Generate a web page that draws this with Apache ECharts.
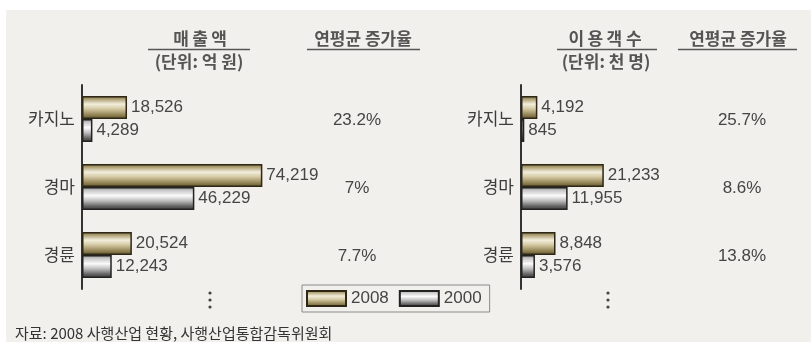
<!DOCTYPE html>
<html>
<head>
<meta charset="utf-8">
<script src="https://cdn.jsdelivr.net/npm/echarts@6/dist/echarts.min.js"></script>
<style>
  html, body { margin: 0; padding: 0; background: #ffffff; }
  #chart { width: 811px; height: 347px; }
</style>
</head>
<body>
<div id="chart"></div>
<script>
// Gambling industry: sales and visitors, 2008 vs 2000
var categories = ['카지노', '경마', '경륜'];
var seriesNames = ['2008', '2000'];
var sales2008 = [18526, 74219, 20524];      // 억 원
var sales2000 = [4289, 46229, 12243];
var visitors2008 = [4192, 21233, 8848];     // 천 명
var visitors2000 = [845, 11955, 3576];
var salesGrowth = ['23.2%', '7%', '7.7%'];
var visitorGrowth = ['25.7%', '8.6%', '13.8%'];
var headers = {
  sales: '매\u2009출\u2009액', salesUnit: '(단위: 억 원)',
  visitors: '이\u2009용\u2009객 수', visitorsUnit: '(단위: 천 명)',
  growth: '연평균 증가율'
};
var sourceNote = '자료: 2008 사행산업 현황, 사행산업통합감독위원회';

var KR = '"Noto Sans CJK KR", "Noto Sans", sans-serif';
var NUM = '"Liberation Sans", Arial, sans-serif';
var TEXT = '#454545';

var gold = new echarts.graphic.LinearGradient(0, 0, 0, 1, [
  { offset: 0, color: '#76693f' },
  { offset: 0.12, color: '#a89a6c' },
  { offset: 0.35, color: '#f3eedc' },
  { offset: 0.55, color: '#d6cba6' },
  { offset: 0.85, color: '#8a7b4c' },
  { offset: 1, color: '#5e5230' }
]);
var silver = new echarts.graphic.LinearGradient(0, 0, 0, 1, [
  { offset: 0, color: '#8c8c8c' },
  { offset: 0.15, color: '#c8c8c8' },
  { offset: 0.38, color: '#fbfbfb' },
  { offset: 0.6, color: '#bdbdbd' },
  { offset: 0.85, color: '#5f5f5f' },
  { offset: 1, color: '#3a3a3a' }
]);

function barSeries(name, data, axisIdx, fill, border) {
  return {
    name: name,
    type: 'bar',
    xAxisIndex: axisIdx,
    yAxisIndex: axisIdx,
    data: data,
    barWidth: 23,
    barGap: '0%',
    itemStyle: { color: fill, borderColor: border, borderWidth: 1.5 },
    label: {
      show: true,
      position: 'right',
      distance: 4,
      fontFamily: NUM,
      fontSize: 17,
      color: TEXT,
      formatter: function (p) { return p.value.toLocaleString('en-US'); }
    },
    emphasis: { disabled: true },
    animation: false
  };
}

function catAxis(idx) {
  return {
    type: 'category',
    gridIndex: idx,
    data: categories,
    inverse: true,
    axisLine: { show: true, lineStyle: { color: '#333333', width: 2 } },
    axisTick: { show: false },
    axisLabel: { fontFamily: KR, fontSize: 17, color: '#3c3c3c', margin: 7 }
  };
}

function valAxis(idx, max) {
  return {
    type: 'value',
    gridIndex: idx,
    min: 0,
    max: max,
    show: false,
    splitLine: { show: false }
  };
}

var chart = echarts.init(document.getElementById('chart'), null, { renderer: 'canvas' });

var option = {
  backgroundColor: '#ffffff',
  animation: false,
  grid: [
    { left: 82, top: 85, width: 243, height: 204 },
    { left: 521, top: 85, width: 117, height: 204 }
  ],
  xAxis: [valAxis(0, 100000), valAxis(1, 30000)],
  yAxis: [catAxis(0), catAxis(1)],
  legend: {
    data: seriesNames,
    left: 302,
    top: 285,
    itemWidth: 39,
    itemHeight: 15,
    itemGap: 10,
    icon: 'rect',
    padding: [5, 8, 5, 4],
    borderColor: '#8a8a8a',
    borderWidth: 1,
    textStyle: { fontFamily: NUM, fontSize: 17, color: TEXT },
    selectedMode: false
  },
  series: [
    barSeries(seriesNames[0], sales2008, 0, gold, '#2e2716'),
    barSeries(seriesNames[1], sales2000, 0, silver, '#222222'),
    barSeries(seriesNames[0], visitors2008, 1, gold, '#2e2716'),
    barSeries(seriesNames[1], visitors2000, 1, silver, '#222222')
  ]
};
chart.setOption(option);

// Text, rules and dots laid out around the two panels
var g = [];
g.push({ type: 'rect', z: -10, shape: { x: 6, y: 10, width: 805, height: 332 }, style: { fill: '#f2f0ec' } });

function header(text, cx, cy, bold) {
  g.push({ type: 'text', x: cx, y: cy, style: {
    text: text, fontFamily: KR, fontSize: 17, fontWeight: bold ? 'bold' : 'normal',
    fill: '#555555', align: 'center', verticalAlign: 'middle' } });
}
function rule(x1, x2, y) {
  g.push({ type: 'line', shape: { x1: x1, y1: y, x2: x2, y2: y }, style: { stroke: '#555555', lineWidth: 1.5 } });
}
header(headers.sales, 200, 39, true);
header(headers.salesUnit, 199, 62, true);
rule(148, 250, 49.5);
header(headers.growth, 363, 39, true);
rule(307, 420, 49.5);
header(headers.visitors, 605, 39, true);
header(headers.visitorsUnit, 606, 62, true);
rule(557, 657, 49.5);
header(headers.growth, 738, 39, true);
rule(678, 797, 49.5);

categories.forEach(function (c, i) {
  var y0 = chart.convertToPixel({ yAxisIndex: 0 }, c);
  var y1 = chart.convertToPixel({ yAxisIndex: 1 }, c);
  g.push({ type: 'text', x: 357, y: y0 + 1, style: {
    text: salesGrowth[i], fontFamily: NUM, fontSize: 17, fill: TEXT, align: 'center', verticalAlign: 'middle' } });
  g.push({ type: 'text', x: 742, y: y1 + 1, style: {
    text: visitorGrowth[i], fontFamily: NUM, fontSize: 17, fill: TEXT, align: 'center', verticalAlign: 'middle' } });
});

[210, 608].forEach(function (x) {
  [293, 300, 307].forEach(function (y) {
    g.push({ type: 'circle', shape: { cx: x, cy: y, r: 1.6 }, style: { fill: '#444444' } });
  });
});

g.push({ type: 'text', x: 15, y: 333, style: {
  text: sourceNote, fontFamily: KR, fontSize: 15, fill: '#333333', align: 'left', verticalAlign: 'middle' } });

chart.setOption({ graphic: { elements: g } });
</script>
</body>
</html>
